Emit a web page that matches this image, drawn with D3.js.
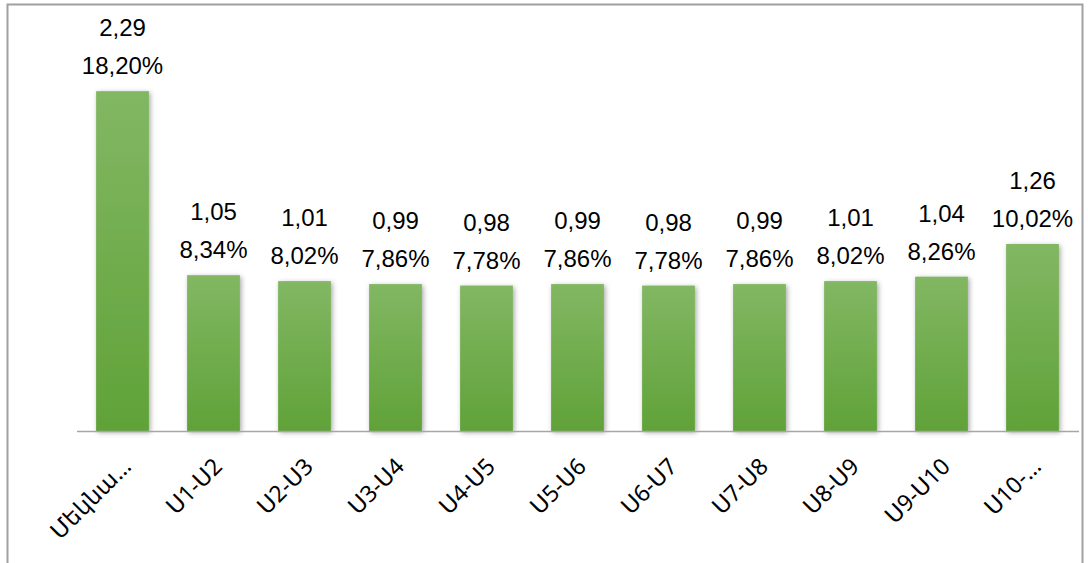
<!DOCTYPE html>
<html>
<head>
<meta charset="utf-8">
<script src="https://cdn.jsdelivr.net/npm/d3@7"></script>
<style>
  body { margin: 0; background: #fff; }
  svg { display: block; }
  .val { font-family: "Liberation Sans", Arial, sans-serif; font-size: 24px; fill: #000; }
  .cat { font-family: "Noto Sans", "DejaVu Sans", sans-serif; font-size: 23px; fill: #000; }
</style>
</head>
<body>
<svg class="chart"></svg>
<script>
var categories = ["Մեկնա…", "Ս1-Ս2", "Ս2-Ս3", "Ս3-Ս4", "Ս4-Ս5", "Ս5-Ս6", "Ս6-Ս7", "Ս7-Ս8", "Ս8-Ս9", "Ս9-Ս10", "Ս10-…"];
var values     = [2.29, 1.05, 1.01, 0.99, 0.98, 0.99, 0.98, 0.99, 1.01, 1.04, 1.26];
var shares     = [18.20, 8.34, 8.02, 7.86, 7.78, 7.86, 7.78, 7.86, 8.02, 8.26, 10.02];

var width = 1088, height = 563;

var svg = d3.select(".chart")
    .attr("width", width)
    .attr("height", height);

var locale = d3.formatLocale({ decimal: ",", thousands: " ", grouping: [3], currency: ["", ""] });
var fmt = locale.format(".2f");

var defs = svg.append("defs");

var grad = defs.append("linearGradient")
    .attr("id", "barGrad")
    .attr("x1", 0).attr("y1", 0).attr("x2", 0).attr("y2", 1);
grad.append("stop").attr("offset", "0%").attr("stop-color", "#82b763");
grad.append("stop").attr("offset", "100%").attr("stop-color", "#60a238");

var shadow = defs.append("filter")
    .attr("id", "shadow")
    .attr("x", "-30%").attr("y", "-10%").attr("width", "160%").attr("height", "120%");
shadow.append("feDropShadow")
    .attr("dx", 1.5).attr("dy", 1.5)
    .attr("stdDeviation", 2.5)
    .attr("flood-color", "#000")
    .attr("flood-opacity", 0.35);

// frame
svg.append("rect")
    .attr("x", 7.5).attr("y", 4.5)
    .attr("width", 1075).attr("height", 600)
    .attr("fill", "none")
    .attr("stroke", "#a0a0a0")
    .attr("stroke-width", 2);

var x = d3.scaleBand()
    .domain(categories)
    .range([77, 1078])
    .paddingInner(0.42)
    .paddingOuter(0.21);

var y = d3.scaleLinear()
    .domain([0, 2.5])
    .range([431, 60]);

svg.selectAll(".bar")
    .data(values)
  .enter().append("rect")
    .attr("class", "bar")
    .attr("x", function(d, i) { return x(categories[i]); })
    .attr("y", function(d) { return y(d); })
    .attr("width", x.bandwidth())
    .attr("height", function(d) { return y(0) - y(d); })
    .attr("fill", "url(#barGrad)")
    .attr("filter", "url(#shadow)");

// baseline
svg.append("line")
    .attr("x1", 77).attr("x2", 1079)
    .attr("y1", y(0) + 0.5).attr("y2", y(0) + 0.5)
    .attr("stroke", "#a6a6a6")
    .attr("stroke-width", 1.5);

// value labels
var lab = svg.selectAll(".val")
    .data(values)
  .enter().append("text")
    .attr("class", "val")
    .attr("text-anchor", "middle");

lab.append("tspan")
    .attr("x", function(d, i) { return x(categories[i]) + x.bandwidth() / 2; })
    .attr("y", function(d) { return y(d) - 55; })
    .text(function(d) { return fmt(d); });

lab.append("tspan")
    .attr("x", function(d, i) { return x(categories[i]) + x.bandwidth() / 2; })
    .attr("y", function(d) { return y(d) - 17; })
    .text(function(d, i) { return fmt(shares[i]) + "%"; });

// category labels
svg.selectAll(".cat")
    .data(categories)
  .enter().append("text")
    .attr("class", "cat")
    .attr("text-anchor", "end")
    .attr("transform", function(d) {
        return "translate(" + (x(d) + x.bandwidth() / 2 + 10) + "," + 468 + ") rotate(-45)";
    })
    .text(function(d) { return d; });
</script>
</body>
</html>
